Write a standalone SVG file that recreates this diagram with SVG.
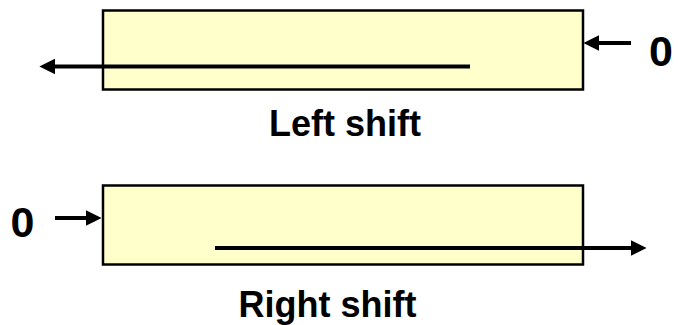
<svg xmlns="http://www.w3.org/2000/svg" width="679" height="325" viewBox="0 0 679 325">
  <defs>
    <!-- filled arrowhead drawn just past the end of each shaft -->
    <marker id="head" viewBox="0 0 10 10" refX="1.5" refY="5" markerWidth="4" markerHeight="4" markerUnits="strokeWidth" orient="auto">
      <path d="M0,0 L10,5 L0,10 Z" fill="#000"/>
    </marker>
  </defs>
  <style>
    .reg { fill: #FFFFCC; stroke: #000; stroke-width: 2.5; }
    .arrow { stroke: #000; stroke-width: 4; fill: none; marker-end: url(#head); }
    .lbl { font-family: "Liberation Sans", Arial, sans-serif; font-weight: bold; fill: #000; }
    .cap { font-size: 36px; text-anchor: middle; }
    .zero { font-size: 43px; text-anchor: middle; }
  </style>
  <rect width="679" height="325" fill="#fff"/>

  <g id="left-register">
    <rect class="reg" x="103" y="10.5" width="480" height="79"/>
  </g>
  <g id="left-zero">
    <text class="lbl zero" x="661" y="66">0</text>
  </g>
  <g id="left-caption">
    <text class="lbl cap" x="345" y="136">Left shift</text>
  </g>

  <g id="right-register">
    <rect class="reg" x="103" y="185.5" width="480" height="79"/>
  </g>
  <g id="right-zero">
    <text class="lbl zero" x="22.5" y="237">0</text>
  </g>
  <g id="right-caption">
    <text class="lbl cap" x="327.5" y="317">Right shift</text>
  </g>

  <g id="connectors">
    <line class="arrow" x1="470" y1="66.5" x2="53" y2="66.5"/>
    <line class="arrow" x1="631" y1="43" x2="597" y2="43"/>
    <line class="arrow" x1="55" y1="218" x2="88" y2="218"/>
    <line class="arrow" x1="215" y1="248" x2="633" y2="248"/>
  </g>
</svg>
